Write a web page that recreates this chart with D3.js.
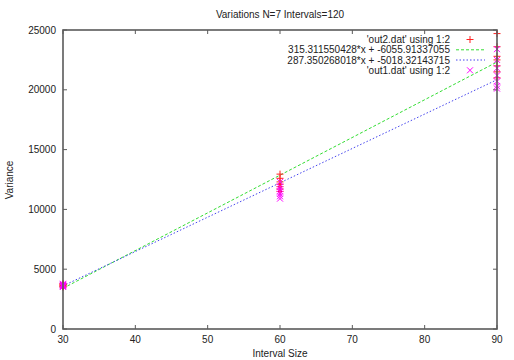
<!DOCTYPE html>
<html><head><meta charset="utf-8">
<script src="https://cdn.jsdelivr.net/npm/d3@7"></script>
<style>body{margin:0;background:#fff}text{font-family:"Liberation Sans",Arial,sans-serif;fill:#222}</style>
</head><body><svg id="c" width="514" height="360"></svg>
<script>
const title = "Variations N=7 Intervals=120";
const xTicks = [30,40,50,60,70,80,90];
const yTicks = [0,5000,10000,15000,20000,25000];
const out2X = [30,30,30,30,30,30,30,60,60,60,60,60,60,60,90,90,90,90,90,90,90];
const out2Y = [3800,3750,3700,3650,3600,3550,3500,12950,12600,12300,12100,11900,11700,11500,24700,23600,22800,22500,22000,21500,21000];
const out1X = [30,30,30,30,30,30,30,60,60,60,60,60,60,60,90,90,90,90,90,90,90];
const out1Y = [3780,3720,3680,3640,3600,3560,3520,12300,11900,11700,11500,11300,11100,10900,23400,22500,21800,21200,20700,20300,20100];
const fit2 = {a:315.311550428, b:-6055.91337055, label:"315.311550428*x + -6055.91337055"};
const fit1 = {a:287.350268018, b:-5018.32143715, label:"287.350268018*x + -5018.32143715"};
const legendLabels = ["'out2.dat' using 1:2", fit2.label, fit1.label, "'out1.dat' using 1:2"];

const svg = d3.select("#c");
const L=63,R=497,T=30,B=329;
const x = d3.scaleLinear().domain([30,90]).range([L,R]);
const y = d3.scaleLinear().domain([0,25000]).range([B,T]);
const frame="#5a5a5a";
const fs=10;

svg.append("text").attr("x",280).attr("y",18).attr("text-anchor","middle").attr("font-size",fs).text(title);
svg.append("text").attr("x",280).attr("y",357).attr("text-anchor","middle").attr("font-size",fs).text("Interval Size");
svg.append("text").attr("transform","translate(13,180) rotate(-90)").attr("text-anchor","middle").attr("font-size",fs).text("Variance");

const g = svg.append("g").attr("stroke",frame).attr("stroke-width",1);
xTicks.forEach(t=>{
  g.append("line").attr("x1",x(t)).attr("x2",x(t)).attr("y1",B).attr("y2",B-4);
  g.append("line").attr("x1",x(t)).attr("x2",x(t)).attr("y1",T).attr("y2",T+4);
  svg.append("text").attr("x",x(t)).attr("y",343).attr("text-anchor","middle").attr("font-size",fs).text(t);
});
yTicks.forEach(t=>{
  g.append("line").attr("x1",L).attr("x2",L+4).attr("y1",y(t)).attr("y2",y(t));
  g.append("line").attr("x1",R).attr("x2",R-4).attr("y1",y(t)).attr("y2",y(t));
  svg.append("text").attr("x",56).attr("y",y(t)+3.5).attr("text-anchor","end").attr("font-size",fs).text(t);
});

const fitLine = (f)=>d3.line()([30,90].map(xv=>[x(xv),y(f.a*xv+f.b)]));
svg.append("path").attr("d",fitLine(fit2)).attr("stroke","#33dd33").attr("stroke-width",1).attr("stroke-dasharray","3,2").attr("fill","none");
svg.append("path").attr("d",fitLine(fit1)).attr("stroke","#4444ee").attr("stroke-width",1).attr("stroke-dasharray","1.5,2").attr("fill","none");

function plus(sel,cx,cy,c){sel.append("path").attr("d",`M${cx-3.5},${cy}H${cx+3.5}M${cx},${cy-3.5}V${cy+3.5}`).attr("stroke",c).attr("stroke-width",1).attr("fill","none");}
function cross(sel,cx,cy,c){sel.append("path").attr("d",`M${cx-3},${cy-3}L${cx+3},${cy+3}M${cx-3},${cy+3}L${cx+3},${cy-3}`).attr("stroke",c).attr("stroke-width",1).attr("fill","none");}
const pts = svg.append("g");
out2X.forEach((xv,i)=>plus(pts,x(xv),y(out2Y[i]),"#ff2020"));
out1X.forEach((xv,i)=>cross(pts,x(xv),y(out1Y[i]),"#ff00ff"));

svg.append("rect").attr("x",L).attr("y",T).attr("width",R-L).attr("height",B-T).attr("fill","none").attr("stroke",frame).attr("stroke-width",1.6);

const ly=[39.5,49.8,60,70.3];
legendLabels.forEach((s,i)=>{
  svg.append("text").attr("x",450).attr("y",ly[i]+3.5).attr("text-anchor","end").attr("font-size",fs).text(s);
});
plus(svg,470,ly[0],"#ff2020");
svg.append("line").attr("x1",456).attr("x2",485).attr("y1",ly[1]).attr("y2",ly[1]).attr("stroke","#33dd33").attr("stroke-dasharray","3,2");
svg.append("line").attr("x1",456).attr("x2",485).attr("y1",ly[2]).attr("y2",ly[2]).attr("stroke","#4444ee").attr("stroke-dasharray","1.5,2");
cross(svg,470,ly[3],"#ff00ff");
</script></body></html>
